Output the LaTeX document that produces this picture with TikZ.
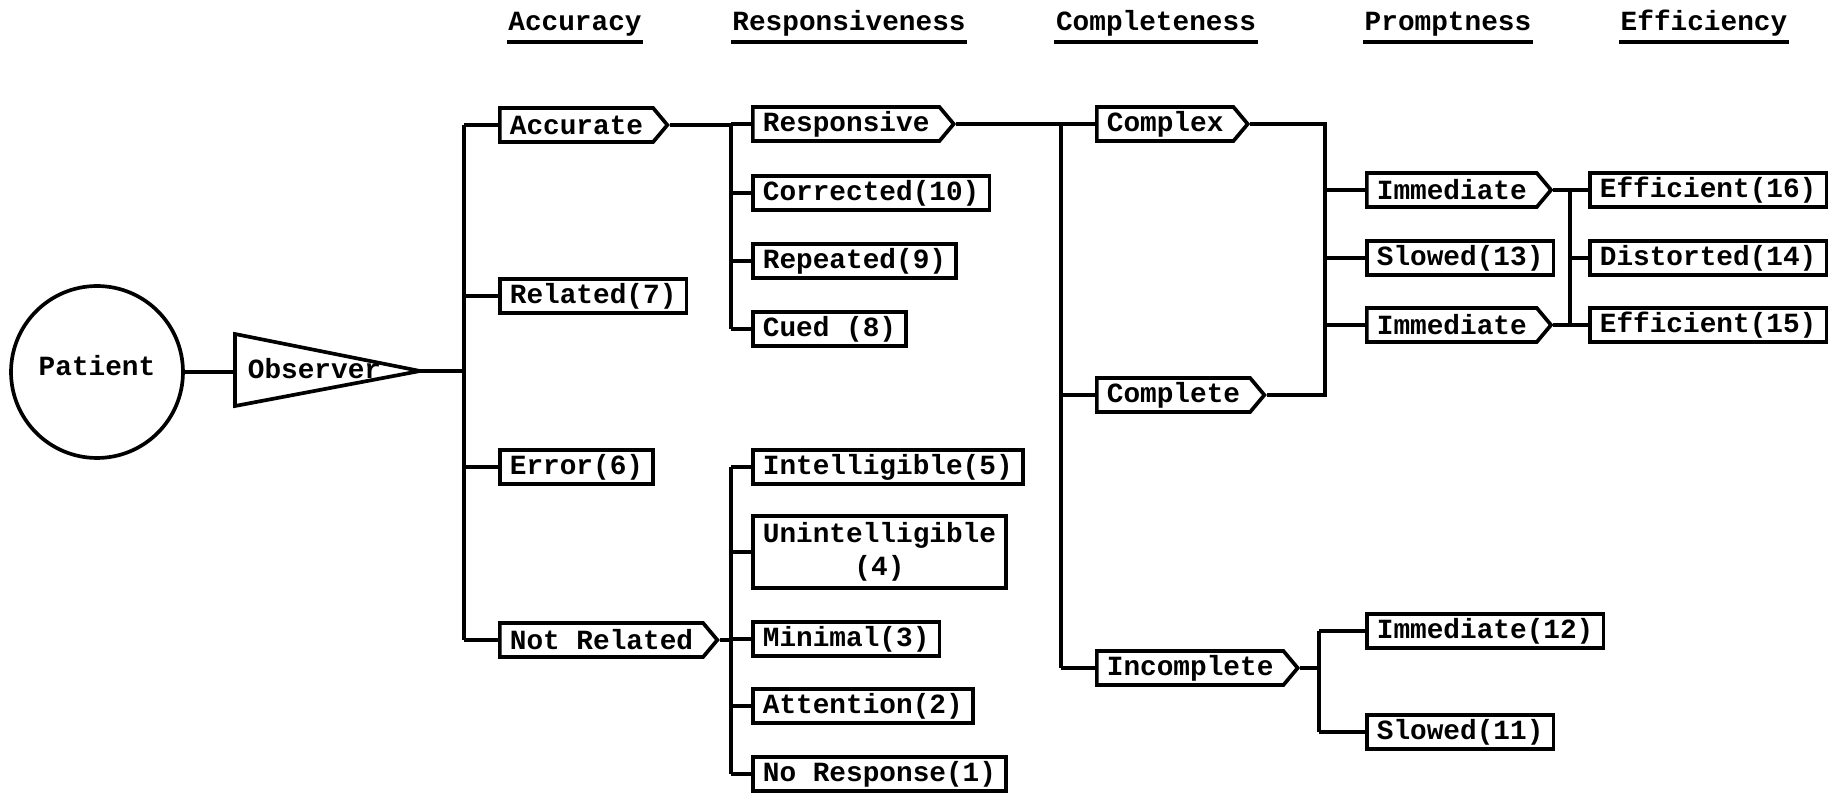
\documentclass[tikz,border=0pt]{standalone}
\usepackage{fontspec}
\setmonofont{Liberation Mono}
\usetikzlibrary{shapes.symbols,positioning}
\newcommand{\typefont}{\fontsize{15.8}{19}\selectfont\ttfamily\bfseries}
\tikzset{
  box/.style={draw, rectangle, anchor=west, minimum height=0.68cm, inner xsep=0.2cm, inner ysep=0pt, font=\typefont},
  pbox/.style={box, signal, signal to=east, signal from=nowhere, signal pointer angle=100},
  hdr/.style={font=\typefont, anchor=base, inner sep=0pt},
}

\begin{document}
\begin{tikzpicture}[x=0.02cm, y=-0.02cm, line width=2.1pt]
    \useasboundingbox (0,0) rectangle (1837,793);

    % column headings
    \foreach \nm/\x/\t in {haccu/575/Accuracy, hresp/849/Responsiveness, hcomp/1156/Completeness, hprom/1448/Promptness, heffi/1704/Efficiency}{
        \node[hdr] (\nm) at (\x,31) {\t};
        \draw[line width=2.6pt] ([yshift=-0.22cm]\nm.base west) -- ([yshift=-0.22cm]\nm.base east);
    }

    % patient and observer
    \node[circle, draw, minimum size=3.44cm, inner sep=0pt, font=\typefont] (pat) at (97,372) {\raisebox{0.25cm}{Patient}};
    \draw (235,334) coordinate (obsa) -- (420,371) coordinate (obstip) -- (235,406) coordinate (obsb) -- cycle;
    \coordinate (obsbase) at (235,372);
    \node[font=\typefont, anchor=west, inner sep=0pt] (obs) at (246,369) {Observer};

    % bus lines
    \coordinate (b1) at (464,0);
    \coordinate (b2) at (731,0);
    \coordinate (b3) at (1061,0);
    \coordinate (b4) at (1325,0);
    \coordinate (b5) at (1570,0);
    \coordinate (b6) at (1319,0);

    % accuracy
    \node[pbox] (acc) at (498,125) {Accurate};
    \node[box] (rel) at (498,296) {Related(7)};
    \node[box] (err) at (498,467) {Error(6)};
    \node[pbox] (notrel) at (498,640) {Not Related};

    % responsiveness
    \node[pbox] (resp) at (751,124) {Responsive};
    \node[box] (corr) at (751,193) {Corrected(10)};
    \node[box] (rep) at (751,261) {Repeated(9)};
    \node[box] (cued) at (751,329) {Cued (8)};
    \node[box] (intel) at (751,467) {Intelligible(5)};
    \node[box, align=center, minimum height=1.44cm] (unint) at (751,552) {Unintelligible\\(4)};
    \node[box] (minim) at (751,639) {Minimal(3)};
    \node[box] (att) at (751,706) {Attention(2)};
    \node[box] (nores) at (751,774) {No Response(1)};

    % completeness
    \node[pbox] (cplx) at (1095,124) {Complex};
    \node[pbox] (cmpl) at (1095,395) {Complete};
    \node[pbox] (incmpl) at (1095,668) {Incomplete};

    % promptness
    \node[pbox] (imma) at (1365,190) {Immediate};
    \node[box] (slowa) at (1365,258) {Slowed(13)};
    \node[pbox] (immb) at (1365,325) {Immediate};
    \node[box] (immc) at (1365,631) {Immediate(12)};
    \node[box] (slowb) at (1365,732) {Slowed(11)};

    % efficiency
    \node[box] (effa) at (1588,190) {Efficient(16)};
    \node[box] (dist) at (1588,258) {Distorted(14)};
    \node[box] (effb) at (1588,325) {Efficient(15)};

    % connectors
    \draw (pat.east) -- (obsbase);
    \draw (obstip) -- (obstip -| b1);
    \draw (b1 |- acc.west) -- (b1 |- notrel.west);
    \foreach \n in {acc,rel,err,notrel}
        \draw (b1 |- \n.west) -- (\n.west);

    \draw (acc.east) -- (acc.east -| b2);
    \draw (b2 |- resp.west) -- (b2 |- cued.west);
    \foreach \n in {resp,corr,rep,cued}
        \draw (b2 |- \n.west) -- (\n.west);

    \draw (notrel.east) -- (notrel.east -| b2);
    \draw (b2 |- intel.west) -- (b2 |- nores.west);
    \foreach \n in {intel,unint,minim,att,nores}
        \draw (b2 |- \n.west) -- (\n.west);

    \draw (resp.east) -- (resp.east -| b3);
    \draw (b3 |- cplx.west) -- (b3 |- incmpl.west);
    \foreach \n in {cplx,cmpl,incmpl}
        \draw (b3 |- \n.west) -- (\n.west);

    \draw (cplx.east) -| (b4 |- cmpl.east) -- (cmpl.east);
    \foreach \n in {imma,slowa,immb}
        \draw (b4 |- \n.west) -- (\n.west);

    \draw (imma.east) -- (imma.east -| b5) -- (b5 |- immb.east) -- (immb.east);
    \foreach \n in {effa,dist,effb}
        \draw (b5 |- \n.west) -- (\n.west);

    \draw (incmpl.east) -- (incmpl.east -| b6);
    \draw (b6 |- immc.west) -- (b6 |- slowb.west);
    \foreach \n in {immc,slowb}
        \draw (b6 |- \n.west) -- (\n.west);
\end{tikzpicture}
\end{document}
